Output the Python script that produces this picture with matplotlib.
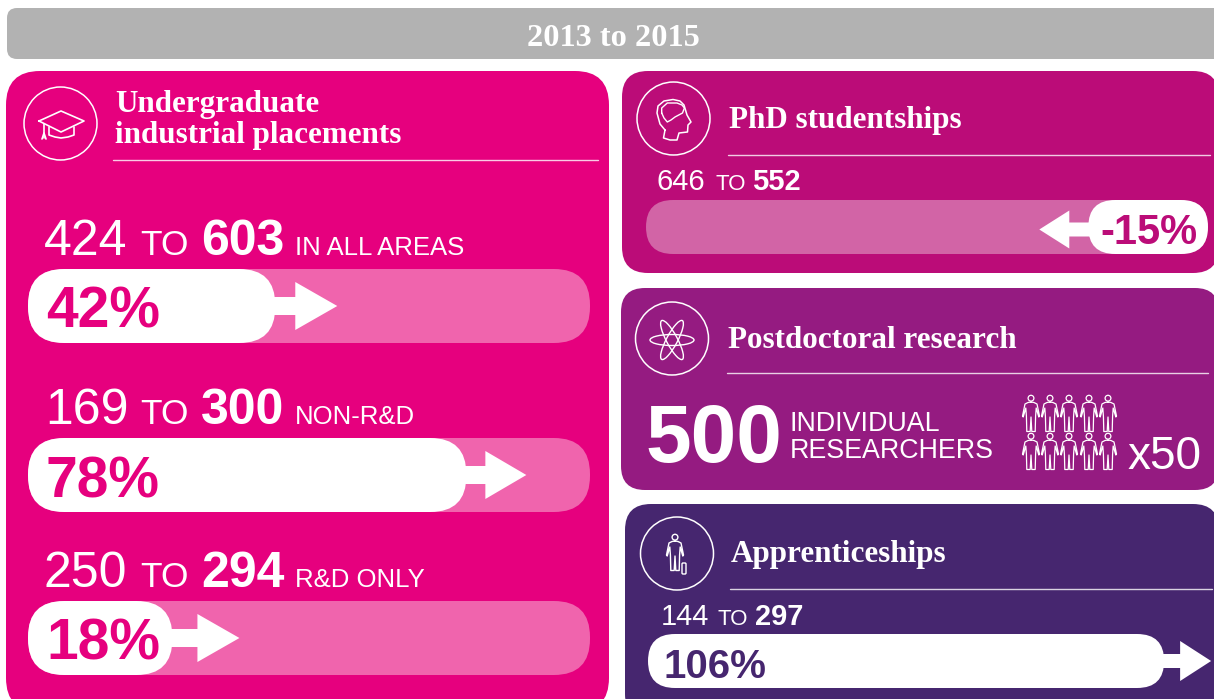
import numpy as np
import matplotlib
matplotlib.use("Agg")
import matplotlib.pyplot as plt
from matplotlib.patches import FancyBboxPatch, Circle, Ellipse, Polygon

# ---- data ----
period = "2013 to 2015"
placement_from = ["424", "169", "250"]
placement_to = ["603", "300", "294"]
placement_area = ["IN ALL AREAS", "NON-R&D", "R&D ONLY"]
placement_pct = ["42%", "78%", "18%"]
placement_fill = [0.44, 0.78, 0.257]   # share of the track filled

phd_from, phd_to, phd_pct, phd_fill = "646", "552", "-15%", 0.213
appr_from, appr_to, appr_pct, appr_fill = "144", "297", "106%", 0.92
postdoc_value = "500"
postdoc_lines = ["INDIVIDUAL", "RESEARCHERS"]
postdoc_multiplier = "x50"
postdoc_icons = 10

PINK, MAGENTA, PURPLE, INDIGO = "#e6007e", "#bb0c78", "#951b81", "#46266f"
PINK_T, MAGENTA_T = "#f064ad", "#d264a6"
SANS, SERIF = "Liberation Sans", "Liberation Serif"
W = "white"

fig = plt.figure(figsize=(12.14, 6.99), dpi=100, facecolor="white")
ax = fig.add_axes([0, 0, 1, 1])
ax.set_xlim(0, 1214)
ax.set_ylim(699, 0)
ax.axis("off")


def rbox(x0, y0, x1, y1, r, color, z=1):
    ax.add_patch(FancyBboxPatch((x0, y0), x1 - x0, y1 - y0,
                                boxstyle=f"round,pad=0,rounding_size={r}",
                                fc=color, ec="none", zorder=z))


def sans(x, y, s, size, weight="normal", color=W, **kw):
    ax.text(x, y, s, fontsize=size, fontweight=weight, color=color,
            family=SANS, va="baseline", zorder=6, **kw)


def serif(x, y, s, size=22.4):
    ax.text(x, y, s, fontsize=size, fontweight="bold", color=W,
            family=SERIF, va="baseline", zorder=6)


def line(xs, ys, lw=1.2, color=W):
    ax.plot(xs, ys, color=color, lw=lw, solid_capstyle="round",
            solid_joinstyle="round", zorder=5)


def arrow(x_from, x_base, x_tip, yc, stem, head):
    ax.add_patch(Polygon([(x_from, yc - stem), (x_base, yc - stem), (x_base, yc - head),
                          (x_tip, yc), (x_base, yc + head), (x_base, yc + stem),
                          (x_from, yc + stem)], fc=W, ec="none", zorder=4))


def badge(cx, cy, r=36.5):
    ax.add_patch(Circle((cx, cy), r, fc="none", ec=W, lw=1.1, zorder=5))


def rule(x0, x1, y):
    line([x0, x1], [y, y], lw=1.0, color="#ffffffcc")


def person(cx, top, h, lw=0.9):
    s = h / 37.0
    ax.add_patch(Circle((cx, top + 3.2 * s), 2.9 * s, fc="none", ec=W, lw=lw, zorder=5))
    px = [0, 3, 6, 8.5, 7.8, 5.2, 4.6, 4.2, 0.8, 0]
    py = [7, 7.5, 9, 21, 22, 13, 21, 36.5, 36.5, 22]
    xs = [cx + v * s for v in px] + [cx - v * s for v in px[::-1]]
    ys = [top + v * s for v in py] + [top + v * s for v in py[::-1]]
    line(xs, ys, lw=lw)


# ---- panels ----
rbox(7, 8, 1240, 59, 10, "#b2b2b2")
ax.text(613, 46, period, fontsize=23.3, fontweight="bold", color=W, family=SERIF,
        ha="center", va="baseline", zorder=6)
rbox(6, 71, 609, 712, 34, PINK)
rbox(622, 71, 1219, 273, 26, MAGENTA)
rbox(621, 288, 1219, 490, 24, PURPLE)
rbox(625, 504, 1219, 720, 26, INDIGO)

# ---- undergraduate placements ----
badge(60.5, 123.5)
serif(115, 112, "Undergraduate")
serif(115, 143, "industrial placements")
rule(113, 598, 160)

# mortar-board icon
line([39, 61, 84, 61, 39], [121, 111, 121, 132, 121])
line([49, 49, 55, 61, 68, 74, 74], [127, 135, 137, 138, 137, 135, 127])
line([44, 44], [124, 138])
line([42, 44, 46], [139, 133, 139])

track_x0, track_x1 = 28, 590
baselines = [255, 424, 587]
tops = [269, 438, 601]
first_x = [44, 45, 44]
head_gap = [20, 19, 25]
tip_gap = [62, 60, 67]
bar_h = 74
for i in range(3):
    b = baselines[i]
    sans(first_x[i], b, placement_from[i], 36)
    sans(140, b, "TO", 25.5)
    sans(201, b, placement_to[i], 36, "bold")
    sans(295, b, placement_area[i], 18.5)
    t = tops[i]
    rbox(track_x0, t, track_x1, t + bar_h, 36, PINK_T, 2)
    end = track_x0 + placement_fill[i] * (track_x1 - track_x0)
    rbox(track_x0, t, end, t + bar_h, 36, W, 3)
    yc = t + bar_h / 2
    arrow(end - 5, end + head_gap[i], end + tip_gap[i], yc, 9, 24)
    sans(46, t + 59, placement_pct[i], 41, "bold", PINK)

# ---- PhD ----
badge(673.5, 118.5)
serif(729, 128, "PhD studentships")
rule(728, 1210, 155)
sans(657, 190, phd_from, 21)
sans(715, 190, "TO", 16)
sans(752, 190, phd_to, 21, "bold")
x0, x1 = 646, 1208
rbox(x0, 200, x1, 254, 27, MAGENTA_T, 2)
start = x1 - phd_fill * (x1 - x0)
rbox(start, 200, x1, 254, 27, W, 3)
arrow(start + 5, start - 19, start - 49, 229.5, 7, 19)
sans(1100, 244, phd_pct, 30, "bold", MAGENTA)
# head icon
hx = [665, 660, 657, 658, 664, 673, 680, 684, 687, 691, 688, 687.5, 679, 677, 670, 663.5, 665]
hy = [130, 124, 113, 106, 101, 99.5, 101, 105, 115, 122, 125, 132, 133, 140, 140, 138, 130]
line(hx, hy, lw=1.1)
line([661.7, 664, 667.3, 671, 675, 682.5, 684.4, 682, 677, 667.3, 661.7, 661.7],
     [113, 118, 122, 120, 117, 113, 108, 105, 103, 103, 108, 113], lw=1.0)

# ---- postdoctoral research ----
badge(672, 338.5)
serif(728, 348, "Postdoctoral research")
rule(727, 1208, 373)
for a in (0, 62, -62):
    ax.add_patch(Ellipse((672, 340), 44, 11, angle=a, fc="none", ec=W, lw=1.0, zorder=5))
sans(645, 462, postdoc_value, 59, "bold")
sans(790, 431, postdoc_lines[0], 19.3)
sans(790, 458, postdoc_lines[1], 19.3)
sans(1127, 469, postdoc_multiplier, 33)
xs_people = [1031, 1050, 1069, 1089, 1108]
for k in range(postdoc_icons):
    person(xs_people[k % 5], 395 if k < 5 else 433, 37)

# ---- apprenticeships ----
badge(677, 553.5)
serif(731, 562, "Apprenticeships")
rule(730, 1212, 589)
person(675, 534, 37, lw=1.0)
rbox(682, 562, 687, 575, 1, INDIGO, 6)
ax.add_patch(FancyBboxPatch((682, 563), 4, 11, boxstyle="round,pad=0,rounding_size=1",
                            fc="none", ec=W, lw=1.0, zorder=7))
sans(661, 625, appr_from, 21)
sans(717, 625, "TO", 16)
sans(755, 625, appr_to, 21, "bold")
x0, x1 = 648, 1209
end = x0 + appr_fill * (x1 - x0)
rbox(x0, 634, end, 688, 27, W, 3)
arrow(end - 5, end + 16, end + 47, 661, 7, 20)
sans(663, 678, appr_pct, 29, "bold", INDIGO)

fig.savefig("out.png", dpi=100, facecolor="white")
